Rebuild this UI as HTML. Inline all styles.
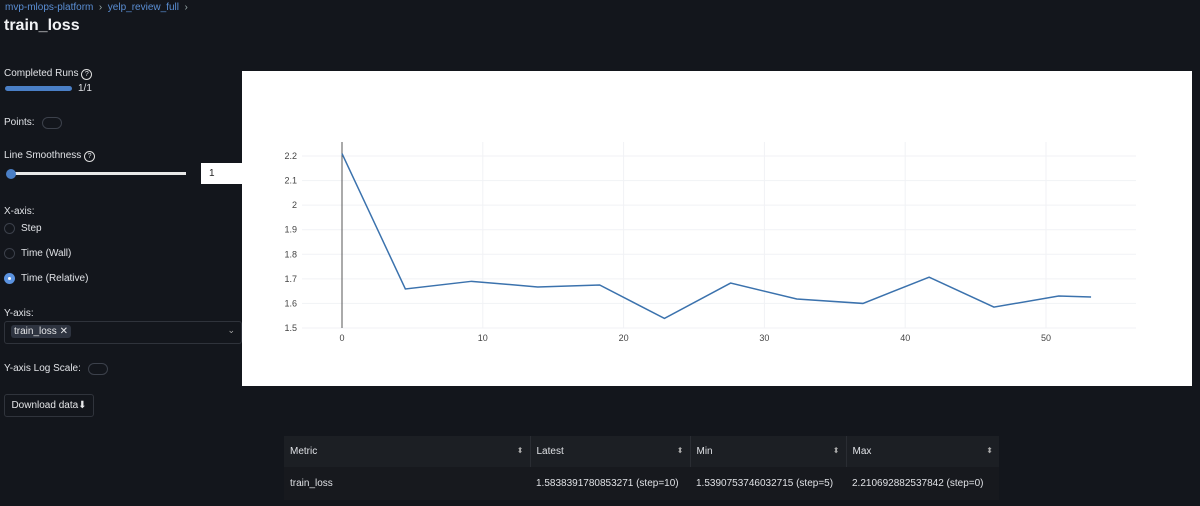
<!DOCTYPE html>
<html><head><meta charset="utf-8"><style>
body{margin:0;width:1200px;height:506px;background:#13161c;font-family:"Liberation Sans",sans-serif;color:#e6e7e9;position:relative;overflow:hidden}
.a{position:absolute}
.lbl{font-size:10px;color:#e0e2e6}
.radio{width:9px;height:9px;border:1px solid #3c414b;border-radius:50%}
.tog{width:18px;height:10px;border:1px solid #3c414b;border-radius:6px}
th,td{font-size:10px;color:#dfe1e5;text-align:left;font-weight:normal;padding-left:6px}
th{position:relative;border-right:1px solid #2a2d33}
th span{position:absolute;right:6px;top:10px;font-size:8px;color:#aaa}
</style></head><body>
<div class="a" style="left:5px;top:2px;font-size:10px;color:#5a8ed4">mvp-mlops-platform <span style="color:#9aa">&nbsp;›&nbsp;</span> yelp_review_full <span style="color:#9aa">&nbsp;›</span></div>
<div class="a" style="left:4px;top:17px;font-size:16px;font-weight:bold;color:#f2f3f5">train_loss</div>
<div class="a lbl" style="left:4px;top:68px">Completed Runs <span style="display:inline-block;width:9px;height:9px;border:1px solid #ddd;border-radius:50%;font-size:7px;text-align:center;line-height:9px">?</span></div>
<div class="a" style="left:5px;top:86px;width:67px;height:5px;background:#4a7fc6;border-radius:3px"></div>
<div class="a lbl" style="left:78px;top:83px">1/1</div>
<div class="a lbl" style="left:4px;top:117px">Points:</div>
<div class="a tog" style="left:42px;top:117px"></div>
<div class="a lbl" style="left:4px;top:150px">Line Smoothness <span style="display:inline-block;width:9px;height:9px;border:1px solid #ddd;border-radius:50%;font-size:7px;text-align:center;line-height:9px">?</span></div>
<div class="a" style="left:10px;top:172px;width:176px;height:3px;background:#e8e8e8"></div>
<div class="a" style="left:6px;top:169px;width:10px;height:10px;border-radius:50%;background:#4a7fc6"></div>
<div class="a" style="left:201px;top:163px;width:41px;height:21px;background:#fff;color:#222;font-size:10px;line-height:21px;text-indent:8px">1</div>
<div class="a lbl" style="left:4px;top:206px">X-axis:</div>
<div class="a radio" style="left:4px;top:223px"></div>
<div class="a lbl" style="left:21px;top:223px">Step</div>
<div class="a radio" style="left:4px;top:248px"></div>
<div class="a lbl" style="left:21px;top:248px">Time (Wall)</div>
<div class="a" style="left:4px;top:273px;width:11px;height:11px;border-radius:50%;background:#5b93e0"><div style="margin:4px;width:3px;height:3px;background:#fff;border-radius:50%"></div></div>
<div class="a lbl" style="left:21px;top:273px">Time (Relative)</div>
<div class="a lbl" style="left:4px;top:308px">Y-axis:</div>
<div class="a" style="left:4px;top:321px;width:236px;height:21px;border:1px solid #2f333b;border-radius:3px"><span style="position:absolute;left:6px;top:3px;background:#2e3440;border-radius:3px;padding:1px 3px;font-size:10px">train_loss ✕</span><span style="position:absolute;right:6px;top:3px;font-size:9px;color:#aaa">⌄</span></div>
<div class="a lbl" style="left:4px;top:363px">Y-axis Log Scale:</div>
<div class="a tog" style="left:88px;top:363px"></div>
<div class="a" style="left:4px;top:394px;width:88px;height:21px;border:1px solid #30343c;border-radius:3px;font-size:10px;line-height:21px;text-align:center">Download data⬇</div>
<svg class="a" style="left:242px;top:71px" width="950" height="315" id="ch"></svg>
<table class="a" style="left:284px;top:436px;width:715px;border-collapse:collapse;table-layout:fixed">
<colgroup><col style="width:246px"><col style="width:160px"><col style="width:156px"><col></colgroup>
<tr style="background:#1c1f24;height:31px"><th>Metric<span>⬍</span></th><th>Latest<span>⬍</span></th><th>Min<span>⬍</span></th><th style="border:none">Max<span>⬍</span></th></tr>
<tr style="background:#17191e;height:33px"><td>train_loss</td><td>1.5838391780853271 (step=10)</td><td>1.5390753746032715 (step=5)</td><td>2.210692882537842 (step=0)</td></tr>
</table>
<script>
const xVals=[0,4.5,9.2,13.9,18.3,22.9,27.6,32.3,37.0,41.7,46.3,50.9,53.2];
const yVals=[2.21,1.659,1.69,1.667,1.675,1.539,1.683,1.618,1.600,1.707,1.585,1.630,1.626];
const xTicks=[0,10,20,30,40,50];
const yTicks=[1.5,1.6,1.7,1.8,1.9,2,2.1,2.2];
const ns="http://www.w3.org/2000/svg",s=document.getElementById('ch');
const X=v=>100+v*14.08, Y=v=>257-(v-1.5)*245.7;
function el(t,a){const e=document.createElementNS(ns,t);for(const k in a)e.setAttribute(k,a[k]);s.appendChild(e);return e;}
const bg=el('rect',{width:950,height:315,fill:'#fff'});


yTicks.forEach(t=>{const g=el('line',{x1:60,x2:894,y1:Y(t),y2:Y(t),stroke:'#f1f2f5'});


const tx=el('text',{x:55,y:Y(t)+3,'text-anchor':'end','font-size':9,fill:'#444'});tx.textContent=t;

});
xTicks.forEach(t=>{if(t>0){const g=el('line',{x1:X(t),x2:X(t),y1:71,y2:257,stroke:'#f1f2f5'});

}
const tx=el('text',{x:X(t),y:270,'text-anchor':'middle','font-size':9,fill:'#444'});tx.textContent=t;

});
const ax=el('line',{x1:X(0),x2:X(0),y1:71,y2:257,stroke:'#555','stroke-width':1});


const p=el('polyline',{points:xVals.map((x,i)=>X(x)+','+Y(yVals[i])).join(' '),fill:'none',stroke:'#3b72ad','stroke-width':1.5});


</script>
</body></html>
